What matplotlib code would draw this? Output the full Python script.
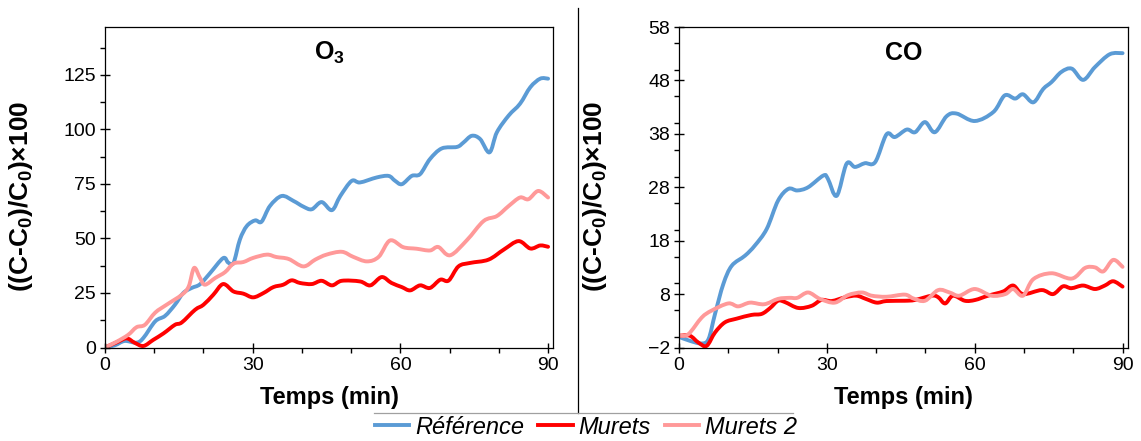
import matplotlib
matplotlib.use("Agg")
import matplotlib.pyplot as plt
from matplotlib.lines import Line2D
from matplotlib.path import Path
from matplotlib.patches import PathPatch
from matplotlib.ticker import MultipleLocator

plt.rcParams["font.family"] = ["Liberation Sans", "DejaVu Sans"]
plt.rcParams["mathtext.fontset"] = "custom"
plt.rcParams["mathtext.rm"] = "Liberation Sans"
plt.rcParams["mathtext.bf"] = "Liberation Sans:bold"

series_names = ["Référence", "Murets", "Murets 2"]
series_colors = ["#5B9BD5", "#FF0000", "#FF9999"]

# O3 panel
o3_ref_t = [0, 2, 4, 6.4, 7.8, 10.2, 12.2, 14.2, 15.9, 17.6, 19.3, 21.3, 24, 25, 26.1, 27.4,
            28.8, 30.5, 31.8, 33.5, 35.9, 38.3, 40.3, 42, 44, 46.1, 47.8, 50.1, 51.8, 55.2,
            57.6, 58.9, 60.3, 62.3, 64, 66, 68.4, 71.5, 72.8, 74.5, 76.2, 78.1, 79.6, 82,
            84.3, 86.4, 88.4, 90]
o3_ref_v = [0, 1, 3, 2.2, 4.4, 12, 14.5, 19.6, 25, 27.3, 29, 34, 41, 39, 38.8, 49.5,
            55.7, 58.3, 57.7, 64.9, 69.5, 67.2, 64.6, 63.4, 66.7, 63, 69.5, 76.4, 75.7, 78,
            78.7, 76.5, 74.9, 78.7, 79.5, 86.4, 91.3, 92, 94, 97.1, 95.6, 89.5, 98.7, 106.4,
            111.8, 119.4, 123.3, 123.3]

o3_mur_t = [0, 2.5, 4.4, 6, 7.8, 9.8, 11.9, 14.2, 15.6, 18.3, 20, 22, 24, 26.1, 28.1, 30.1,
            32.2, 34.2, 36.2, 37.9, 39.6, 42, 44, 46.1, 48.1, 51.8, 53.9, 56.2, 58.2, 60.3,
            62, 64, 66, 68.1, 69.8, 71.8, 74.2, 77.9, 81, 84, 86.4, 88.4, 90]
o3_mur_v = [0, 2.5, 4.2, 2.2, 0.7, 3.5, 6.5, 10.4, 11.5, 17.3, 19.6, 24.2, 29.1, 25.7, 24.7, 23,
            25, 27.7, 28.8, 30.8, 29.6, 29.1, 30.6, 28.5, 30.6, 30.3, 28.5, 32.3, 29.6, 27.7,
            26.2, 28.5, 27.3, 31.1, 30.7, 37.2, 38.8, 40.3, 44.9, 48.8, 45.4, 46.8, 46.2]

o3_mur2_t = [0, 2.4, 4.7, 6.4, 8.1, 10.2, 12.5, 15.6, 17, 18.1, 19.3, 20.3, 22.4, 24.4, 26.1,
             28.1, 30.1, 32.9, 34.8, 37.3, 40.3, 42.7, 45, 48.1, 50.4, 53.2, 55.6, 57.9, 60.6,
             63.3, 66, 67.7, 70.1, 73.5, 76.9, 79.6, 82, 84.3, 86, 88, 90]
o3_mur2_v = [0, 2.7, 5.8, 9.3, 10.4, 16, 19.6, 24.2, 28, 36.5, 31.9, 28.8, 31.9, 34.6, 38.5,
             39.2, 41.1, 42.6, 41.5, 40.6, 37.2, 40.3, 42.6, 43.9, 41.6, 39.5, 41.6, 49.1, 46,
             45.3, 44.5, 46.1, 42.3, 49.2, 58, 60.3, 64.9, 68.8, 68, 71.8, 68.8]

# CO panel
co_ref_t = [0, 2.2, 4.6, 6, 7.3, 9, 10.7, 13.4, 15.4, 17.8, 20.1, 22.2, 24, 26.2, 29.3, 30.2,
            32, 34, 35.7, 37.7, 39.8, 42.1, 43.8, 46.2, 47.9, 49.9, 51.9, 54.3, 56.3, 60, 63.8,
            66.1, 68.2, 69.8, 71.9, 73.9, 75.6, 77.6, 79.7, 82, 84.4, 87.4, 90]
co_ref_v = [0, -0.75, -1.25, -0.4, 4.25, 9.9, 13.3, 15.2, 17.1, 20.2, 25.5, 27.7, 27.4, 28, 30.2,
            29.6, 26.4, 32.4, 31.8, 32.5, 32.7, 37.9, 37.4, 38.8, 38.3, 40.2, 38.3, 41.3, 41.8,
            40.4, 42.1, 45.2, 44.6, 45.4, 43.9, 46.4, 47.7, 49.6, 50.2, 48.1, 50.5, 52.9, 53.1]

co_mur_t = [0, 2.2, 3.9, 5.6, 7.3, 9.3, 11.7, 14.7, 16.8, 18.5, 20.1, 21.5, 24.2, 26.9, 28.9, 31,
            33.7, 36, 37.9, 40.1, 42.1, 45.8, 47.9, 51.3, 52.6, 54, 55.6, 58, 60.1, 62.7, 65.8,
            67.8, 69.8, 73.6, 75.9, 77.9, 79.6, 82, 84.4, 86.4, 88.1, 90]
co_mur_v = [0.2, 0.2, -1.05, -1.7, 0.8, 2.7, 3.4, 4.1, 4.3, 5.4, 6.75, 6.5, 5.4, 5.8, 6.9, 6.7,
            7.4, 7.7, 7.1, 6.4, 6.7, 6.75, 6.9, 7.7, 7.4, 6.25, 7.7, 6.75, 6.9, 7.7, 8.5,
            9.6, 8, 8.75, 8, 9.45, 9.1, 9.6, 8.95, 9.6, 10.4, 9.4]

co_mur2_t = [0, 1.9, 4.6, 6.6, 10, 12, 14.4, 17.3, 20.1, 22.4, 24, 26.2, 28.6, 31.6, 34.3, 37.1,
             39.1, 42.1, 45.8, 47.5, 49.9, 52.6, 54.9, 56.9, 60, 63.4, 66.2, 67.8, 69.8, 71.9,
             75.6, 79.7, 82.4, 84.4, 86.1, 88.1, 90]
co_mur2_v = [0.2, 0.5, 3.6, 4.9, 6.25, 5.7, 6.4, 6.1, 7.1, 7.3, 7.3, 8.3, 7.1, 6.4, 7.8, 8.3,
             7.7, 7.5, 7.9, 7.2, 6.75, 8.75, 8.3, 7.7, 8.95, 7.7, 8, 8.95, 7.7, 10.8,
             11.9, 10.9, 12.9, 13, 12.25, 14.4, 13.1]

o3_ticks = [0, 25, 50, 75, 100, 125]
co_ticks = [-2, 8, 18, 28, 38, 48, 58]
time_ticks = [0, 30, 60, 90]

LW = 2.8


def smooth_path(t, v):
    # Excel-like smoothed line: Catmull-Rom segments as cubic Bezier curves
    pts = list(zip(t, v))
    verts = [pts[0]]
    codes = [Path.MOVETO]
    n = len(pts)
    for i in range(n - 1):
        p0 = pts[i - 1] if i > 0 else pts[i]
        p1, p2 = pts[i], pts[i + 1]
        p3 = pts[i + 2] if i + 2 < n else pts[i + 1]
        c1 = (p1[0] + (p2[0] - p0[0]) / 6, p1[1] + (p2[1] - p0[1]) / 6)
        c2 = (p2[0] - (p3[0] - p1[0]) / 6, p2[1] - (p3[1] - p1[1]) / 6)
        verts += [c1, c2, p2]
        codes += [Path.CURVE4] * 3
    return Path(verts, codes)


fig = plt.figure(figsize=(11.41, 4.41), dpi=100)
ax1 = fig.add_axes([105 / 1141, 1 - 347.5 / 441, 448 / 1141, 320.5 / 441])
ax2 = fig.add_axes([679 / 1141, 1 - 347.5 / 441, 448.5 / 1141, 320.5 / 441])

panels = [
    (ax1, "O$_\\mathbf{3}$", [(o3_ref_t, o3_ref_v), (o3_mur_t, o3_mur_v), (o3_mur2_t, o3_mur2_v)]),
    (ax2, "CO", [(co_ref_t, co_ref_v), (co_mur_t, co_mur_v), (co_mur2_t, co_mur2_v)]),
]

for ax, title, data in panels:
    for (t, v), col in zip(data, series_colors):
        ax.add_patch(PathPatch(smooth_path(t, v), fill=False, edgecolor=col, lw=LW,
                               capstyle="round", joinstyle="round"))
    ax.text(0.5, 0.92, title, transform=ax.transAxes, ha="center", va="center",
            fontsize=18, fontweight="bold")
    ax.set_xlim(0, 91)
    ax.set_xticks(time_ticks)
    ax.xaxis.set_minor_locator(MultipleLocator(10))
    ax.set_xlabel("Temps (min)", fontsize=17, fontweight="bold")
    ax.xaxis.set_label_coords(0.5, -0.12)
    ax.set_ylabel("((C-C$_\\mathbf{0}$)/C$_\\mathbf{0}$)×100", fontsize=19, fontweight="bold")
    ax.yaxis.set_label_coords(-0.157, 0.47)
    ax.tick_params(which="major", direction="inout", length=7, width=1, labelsize=14, pad=3)
    ax.tick_params(which="minor", direction="out", length=3.5, width=1)
    for sp in ax.spines.values():
        sp.set_linewidth(0.9)

ax1.set_ylim(0, 147)
ax1.set_yticks(o3_ticks)
ax1.yaxis.set_minor_locator(MultipleLocator(12.5))

ax2.set_ylim(-2, 58)
ax2.set_yticks(co_ticks)
ax2.yaxis.set_minor_locator(MultipleLocator(5))

# separators
fig.add_artist(Line2D([577.5 / 1141, 577.5 / 1141], [1 - 8 / 441, 1 - 413 / 441],
                      color="black", lw=0.9, transform=fig.transFigure))
fig.add_artist(Line2D([374 / 1141, 793 / 1141], [1 - 413 / 441, 1 - 413 / 441],
                      color="#a0a0a0", lw=0.9, transform=fig.transFigure))

handles = [Line2D([], [], color=c, lw=LW) for c in series_colors]
fig.legend(handles, series_names, loc="center", bbox_to_anchor=(586 / 1141, 1 - 427 / 441),
           ncol=3, frameon=False, prop={"style": "italic", "size": 17},
           handlelength=1.45, handletextpad=0.25, columnspacing=0.6, borderpad=0)

fig.savefig("out.png", dpi=100)
